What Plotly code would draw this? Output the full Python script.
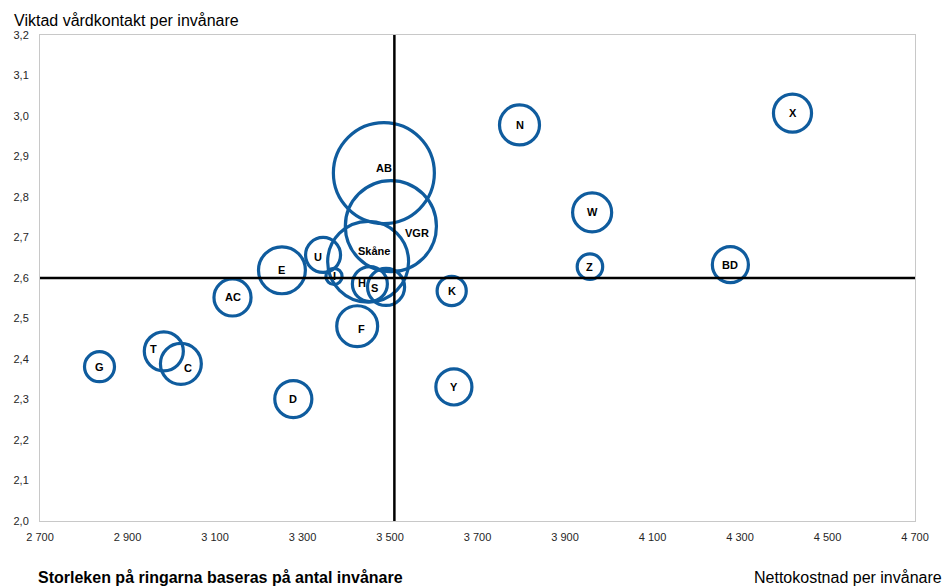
import plotly.graph_objects as go

# Regioner: nettokostnad per invånare (kr), viktad vårdkontakt per invånare,
# antal invånare (tusental) styr ringarnas storlek
regioner = ["AB", "VGR", "Skåne", "E", "U", "I", "H", "S", "F", "AC", "D",
            "G", "T", "C", "K", "Y", "N", "W", "Z", "BD", "X"]
nettokostnad = [3486, 3502, 3450, 3253, 3347, 3372, 3454, 3491, 3425, 3140, 3279,
                2836, 2983, 3022, 3641, 3646, 3796, 3962, 3957, 4278, 4420]
vardkontakt = [2.859, 2.728, 2.640, 2.619, 2.657, 2.604, 2.585, 2.578, 2.481, 2.552, 2.301,
               2.381, 2.419, 2.388, 2.568, 2.331, 2.978, 2.762, 2.628, 2.633, 3.007]
invanare_tusental = [2040, 1660, 1310, 440, 245, 52, 245, 275, 335, 275, 275,
                     180, 305, 335, 170, 260, 320, 305, 130, 260, 290]

# Riksgenomsnitt som delar diagrammet i fyra fält
riket_kostnad = 3510
riket_kontakt = 2.6

x_ticks = [2700, 2900, 3100, 3300, 3500, 3700, 3900, 4100, 4300, 4500, 4700]
y_ticks = [2.0, 2.1, 2.2, 2.3, 2.4, 2.5, 2.6, 2.7, 2.8, 2.9, 3.0, 3.1, 3.2]

RING = "#0F5C9E"
FONT = "Liberation Sans, Arial, sans-serif"

# Största ringens diameter i pixlar
max_diameter = 101
sizeref = 2 * max(invanare_tusental) / max_diameter ** 2

# Etiketter som flyttats något från ringens mitt (pixlar)
etikett_forskjutning = {
    "AB": (0, 5), "VGR": (26, -7), "Skåne": (6, 11), "U": (-5, -2),
    "H": (-8, 1), "S": (-12, -1), "T": (-10, 2), "C": (7, -4), "F": (4, -3),
}

fig = go.Figure()

fig.add_trace(go.Scatter(
    x=nettokostnad,
    y=vardkontakt,
    mode="markers",
    marker=dict(
        size=invanare_tusental,
        sizemode="area",
        sizeref=sizeref,
        color="rgba(0,0,0,0)",
        opacity=1,
        line=dict(color=RING, width=3.2),
    ),
    hovertext=regioner,
    showlegend=False,
    cliponaxis=False,
))

for namn, xv, yv in zip(regioner, nettokostnad, vardkontakt):
    dx, dy = etikett_forskjutning.get(namn, (0, 0))
    fig.add_annotation(
        x=xv, y=yv, text=f"<b>{namn}</b>", showarrow=False,
        xshift=dx, yshift=dy,
        font=dict(family=FONT, size=11, color="#000000"),
    )

# Referenslinjer för riksgenomsnittet
fig.add_shape(type="line", xref="x", yref="y",
              x0=riket_kostnad, x1=riket_kostnad, y0=y_ticks[0], y1=y_ticks[-1],
              line=dict(color="#000000", width=2.5), layer="above")
fig.add_shape(type="line", xref="x", yref="y",
              x0=x_ticks[0], x1=x_ticks[-1], y0=riket_kontakt, y1=riket_kontakt,
              line=dict(color="#000000", width=2.5), layer="above")

axis_font = dict(family=FONT, size=11, color="#262626")

fig.update_layout(
    width=946,
    height=586,
    margin=dict(l=40, r=31, t=35, b=65),
    paper_bgcolor="white",
    plot_bgcolor="white",
    separators=", ",
    xaxis=dict(
        range=[x_ticks[0], x_ticks[-1]],
        tickvals=x_ticks,
        tickformat=",d",
        showgrid=False,
        zeroline=False,
        showline=True,
        linecolor="#C8C8C8",
        linewidth=1,
        mirror=True,
        ticks="",
        ticklabelstandoff=6,
        tickfont=axis_font,
    ),
    yaxis=dict(
        range=[y_ticks[0], y_ticks[-1]],
        tickvals=y_ticks,
        tickformat=".1f",
        showgrid=False,
        zeroline=False,
        showline=True,
        linecolor="#C8C8C8",
        linewidth=1,
        mirror=True,
        ticks="",
        ticklabelstandoff=8,
        tickfont=axis_font,
    ),
    font=dict(family=FONT),
)

fig.add_annotation(
    text="Viktad vårdkontakt per invånare", xref="paper", yref="paper",
    x=-28 / 875, y=1, yshift=15, xanchor="left", yanchor="middle", showarrow=False,
    font=dict(family=FONT, size=16, color="#000000"),
)
fig.add_annotation(
    text="<b>Storleken på ringarna baseras på antal invånare</b>", xref="paper", yref="paper",
    x=-4 / 875, y=0, yshift=-56, xanchor="left", yanchor="middle", showarrow=False,
    font=dict(family=FONT, size=16, color="#000000"),
)
fig.add_annotation(
    text="Nettokostnad per invånare", xref="paper", yref="paper",
    x=1, y=0, xshift=29, yshift=-56, xanchor="right", yanchor="middle", showarrow=False,
    font=dict(family=FONT, size=16, color="#000000"),
)

fig.write_html("out.html")
